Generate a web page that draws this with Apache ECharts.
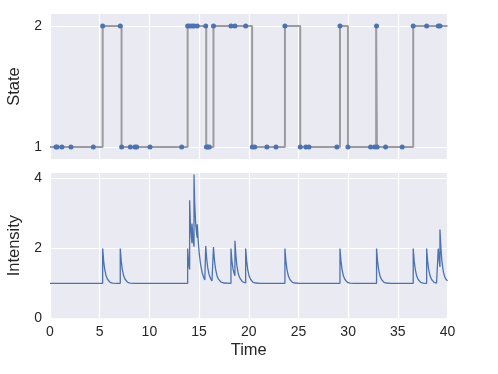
<!DOCTYPE html>
<html>
<head>
<meta charset="utf-8">
<script src="https://cdn.jsdelivr.net/npm/echarts@6/dist/echarts.min.js"></script>
<style>
  html, body { margin: 0; padding: 0; background: #fff; }
  #chart { width: 498px; height: 374px; }
</style>
</head>
<body>
<div id="chart"></div>
<script>
// state switches: [time, new state]
var stateSteps = [[0, 1], [5.3, 2], [7.2, 1], [13.85, 2], [15.72, 1], [16.45, 2], [20.34, 1],
  [23.64, 2], [25.18, 1], [29.18, 2], [29.98, 1], [32.82, 2], [32.9, 1], [36.55, 2], [40, 2]]

// event times, split by the state they happened in
var eventsState1 = [0.6, 0.72, 1.2, 2.11, 4.36, 7.21, 8.08, 8.55, 8.72, 10.06, 13.25, 15.74, 15.86,
  16.03, 20.36, 20.6, 21.83, 22.74, 25.18, 25.75, 26.06, 28.87, 29.98, 32.26, 32.66, 32.92, 33.77, 35.44]
var eventsState2 = [5.3, 7.07, 13.85, 14.05, 14.29, 14.49, 14.82, 15.67, 16.45, 18.21, 18.61, 19.69,
  23.64, 29.18, 32.86, 36.55, 37.9, 39.07, 39.24]

// intensity curve
var intensity = [
  [0, 1],
  [5.3, 1], [5.3, 2], [5.4, 1.64], [5.5, 1.41], [5.65, 1.21], [5.8, 1.11], [6.05, 1.03], [6.3, 1.01], [6.7, 1],
  [7.07, 1], [7.07, 2], [7.17, 1.64], [7.27, 1.41], [7.42, 1.21], [7.57, 1.11], [7.82, 1.03], [8.07, 1.01], [8.5, 1],
  [13.85, 1], [13.85, 2], [13.92, 1.7], [14.0, 1.47], [14.05, 1.4],
  [14.05, 3.38], [14.12, 2.78], [14.2, 2.4], [14.29, 2.15],
  [14.29, 2.71], [14.36, 2.4], [14.44, 2.17], [14.49, 2.05],
  [14.49, 4.12], [14.56, 3.3], [14.65, 2.75], [14.74, 2.45], [14.82, 2.3],
  [14.82, 2.69], [14.92, 2.2], [15.02, 1.85], [15.15, 1.55], [15.3, 1.32], [15.45, 1.18], [15.58, 1.1], [15.67, 1.07],
  [15.67, 2.07], [15.77, 1.7], [15.87, 1.45], [16.02, 1.24], [16.17, 1.13], [16.3, 1.07], [16.45, 1.04],
  [16.45, 2.04], [16.55, 1.67], [16.65, 1.43], [16.8, 1.22], [16.95, 1.12], [17.2, 1.04], [17.5, 1.01], [18.21, 1],
  [18.21, 2], [18.31, 1.64], [18.41, 1.42], [18.51, 1.3], [18.61, 1.22],
  [18.61, 2.22], [18.71, 1.79], [18.81, 1.5], [18.96, 1.26], [19.11, 1.15], [19.36, 1.05], [19.69, 1.01],
  [19.69, 2], [19.79, 1.64], [19.89, 1.41], [20.04, 1.21], [20.19, 1.11], [20.44, 1.03], [20.7, 1.01], [21.2, 1],
  [23.64, 1], [23.64, 2], [23.74, 1.64], [23.84, 1.41], [23.99, 1.21], [24.14, 1.11], [24.39, 1.03], [24.64, 1.01], [25.1, 1],
  [29.18, 1], [29.18, 2], [29.28, 1.64], [29.38, 1.41], [29.53, 1.21], [29.68, 1.11], [29.93, 1.03], [30.18, 1.01], [30.6, 1],
  [32.86, 1], [32.86, 2], [32.96, 1.64], [33.06, 1.41], [33.21, 1.21], [33.36, 1.11], [33.61, 1.03], [33.86, 1.01], [34.3, 1],
  [36.55, 1], [36.55, 2], [36.65, 1.64], [36.75, 1.41], [36.9, 1.21], [37.05, 1.11], [37.3, 1.03], [37.55, 1.01], [37.9, 1],
  [37.9, 2], [38.0, 1.64], [38.1, 1.41], [38.25, 1.21], [38.4, 1.11], [38.65, 1.03], [38.9, 1.01], [39.07, 1],
  [39.07, 2], [39.15, 1.7], [39.24, 1.47],
  [39.24, 2.54], [39.34, 2.0], [39.44, 1.63], [39.59, 1.32], [39.74, 1.17], [39.87, 1.11], [40, 1.07]
]

var timeTicks = [0, 5, 10, 15, 20, 25, 30, 35, 40]
var stateTicks = [1, 2]
var intensityTicks = [0, 2, 4]

var blue = '#4C72B0'
var textColor = '#262626'
var font = 'Liberation Sans, Arial, sans-serif'

// white horizontal grid lines, kept under the data
function gridLines(vals) {
  return {
    z: 1,
    silent: true,
    symbol: 'none',
    label: { show: false },
    lineStyle: { color: '#fff', width: 1.2, type: 'solid' },
    data: vals.map(function (v) { return { yAxis: v } })
  }
}

function xAxisFor(idx, withLabels) {
  return {
    gridIndex: idx,
    type: 'value',
    min: 0,
    max: 40,
    interval: 5,
    axisLine: { show: false },
    axisTick: { show: false },
    splitLine: { show: true, lineStyle: { color: '#fff', width: 1.2 } },
    axisLabel: { show: withLabels, color: textColor, fontSize: 14, fontFamily: font, margin: 7 },
    name: withLabels ? 'Time' : '',
    nameLocation: 'middle',
    nameGap: 24,
    nameTextStyle: { color: textColor, fontSize: 16.5, fontFamily: font }
  }
}

function yAxisFor(idx, min, max, ticks, name) {
  return {
    gridIndex: idx,
    type: 'value',
    min: min,
    max: max,
    axisLine: { show: false },
    axisTick: { show: false },
    splitLine: { show: false },
    axisLabel: { customValues: ticks, color: textColor, fontSize: 14, fontFamily: font, margin: 8 },
    name: name,
    nameLocation: 'middle',
    nameRotate: 90,
    nameGap: 16,
    nameTextStyle: { color: textColor, fontSize: 16.5, fontFamily: font }
  }
}

var chart = echarts.init(document.getElementById('chart'), null, { renderer: 'canvas' })
chart.setOption({
  animation: false,
  backgroundColor: '#fff',
  grid: [
    { left: 50, right: 50.5, top: 14, height: 145, show: true, backgroundColor: '#EAEAF2', borderWidth: 0, outerBoundsMode: 'none' },
    { left: 50, right: 50.5, top: 173, height: 145.3, show: true, backgroundColor: '#EAEAF2', borderWidth: 0, outerBoundsMode: 'none' }
  ],
  xAxis: [xAxisFor(0, false), xAxisFor(1, true)],
  yAxis: [
    yAxisFor(0, 0.9, 2.1, stateTicks, 'State'),
    yAxisFor(1, 0, 4.16, intensityTicks, 'Intensity')
  ],
  series: [
    {
      type: 'line', xAxisIndex: 0, yAxisIndex: 0, z: 1,
      data: [[0, 1]], symbol: 'none', lineStyle: { opacity: 0 },
      markLine: gridLines(stateTicks)
    },
    {
      type: 'line', xAxisIndex: 1, yAxisIndex: 1, z: 1,
      data: [[0, 1]], symbol: 'none', lineStyle: { opacity: 0 },
      markLine: gridLines(intensityTicks.slice(1))
    },
    {
      type: 'line', xAxisIndex: 0, yAxisIndex: 0, z: 3,
      step: 'end', data: stateSteps, symbol: 'none',
      lineStyle: { color: '#9c9ca0', width: 2 }
    },
    {
      type: 'scatter', xAxisIndex: 0, yAxisIndex: 0, z: 4,
      data: eventsState1.map(function (t) { return [t, 1] }),
      symbolSize: 5, itemStyle: { color: blue, opacity: 1 }
    },
    {
      type: 'scatter', xAxisIndex: 0, yAxisIndex: 0, z: 4,
      data: eventsState2.map(function (t) { return [t, 2] }),
      symbolSize: 5, itemStyle: { color: blue, opacity: 1 }
    },
    {
      type: 'line', xAxisIndex: 1, yAxisIndex: 1, z: 3,
      data: intensity, symbol: 'none',
      lineStyle: { color: blue, width: 1.3 }
    }
  ]
})
</script>
</body>
</html>
